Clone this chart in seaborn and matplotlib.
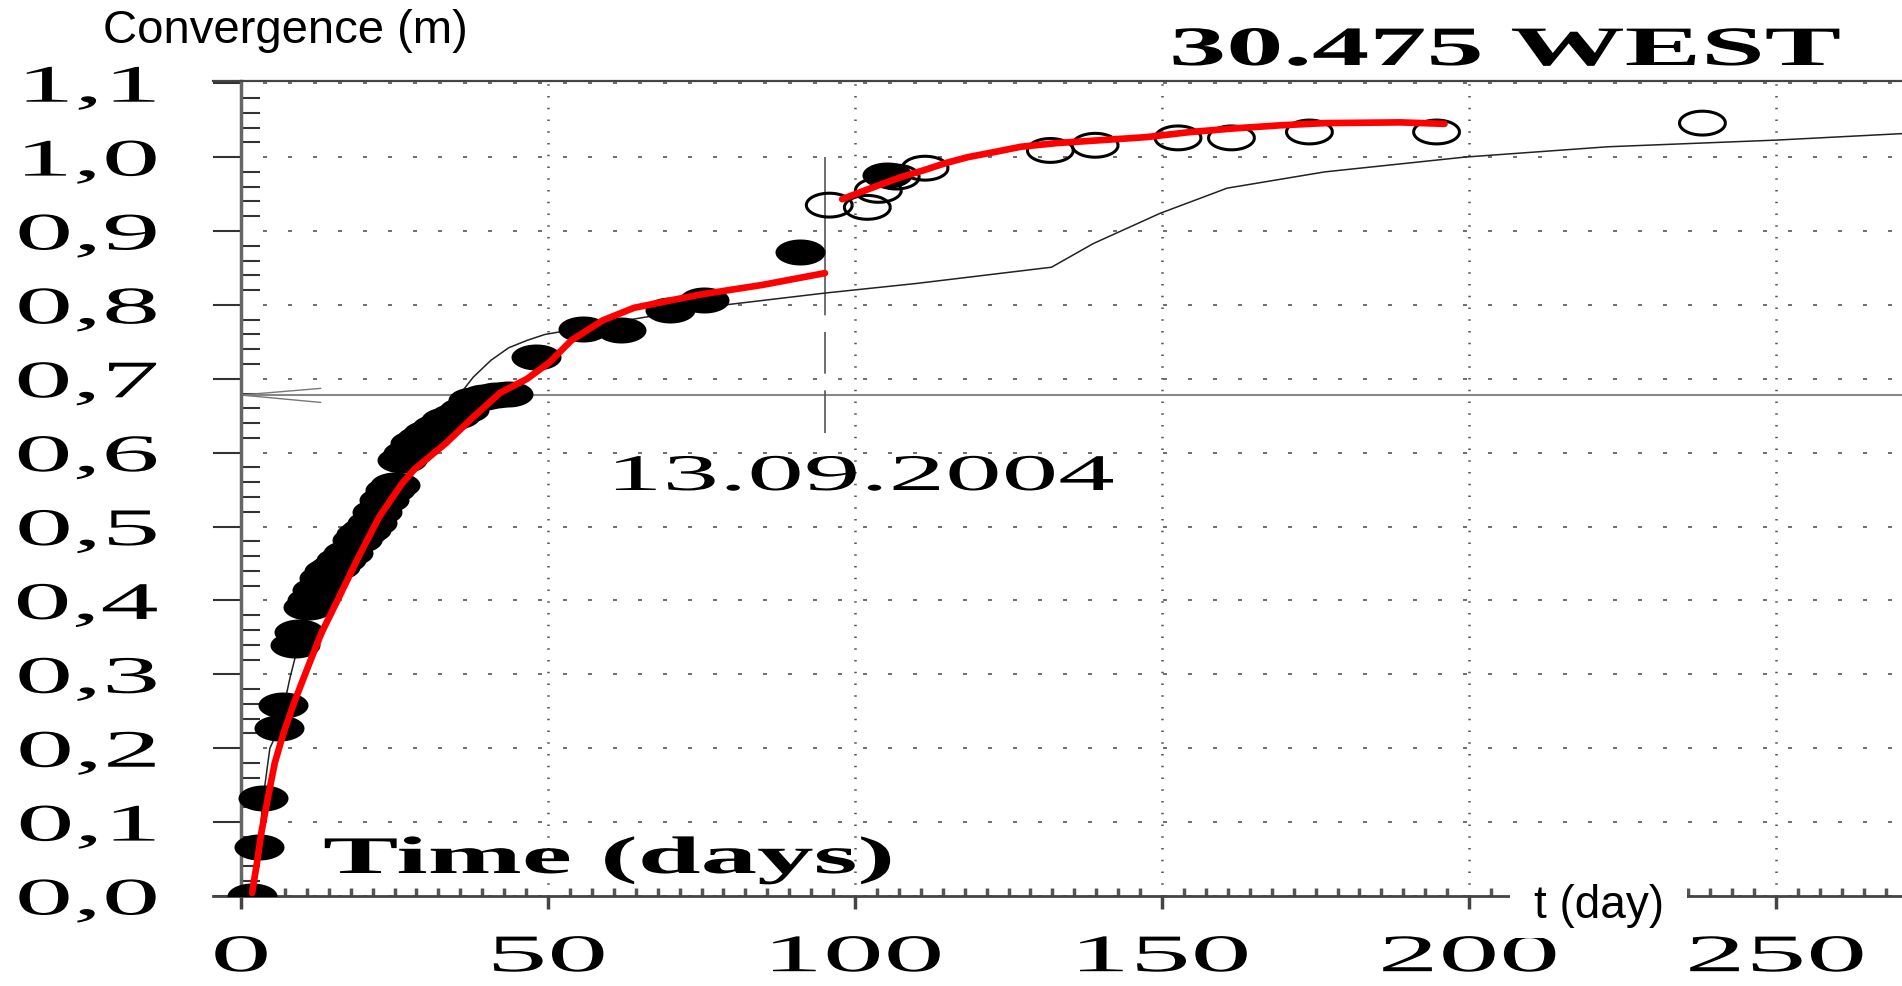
import numpy as np
import matplotlib.pyplot as plt
import matplotlib.patheffects as pe
from matplotlib.path import Path
from matplotlib.patches import Rectangle
from matplotlib.transforms import Affine2D
from matplotlib.ticker import FixedLocator, MultipleLocator
import seaborn as sns

# MEASURED CONVERGENCE (filled = before 13.09.2004, open = after)
meas_days = [1.8, 2.9, 3.6, 6.2, 6.9, 8.8, 9.4, 10.9, 11.6, 12.4, 13.5, 14.4, 15.3,
             16.3, 17.4, 18.9, 19.6, 20.4, 21.3, 22.2, 23.3, 24.2, 25.1, 26.2, 27.2,
             28.3, 29.4, 30.5, 31.9, 33.4, 34.8, 36.3, 37.8, 39.5, 41.5, 43.5, 48.0,
             55.7, 61.9, 69.9, 75.4, 91.0, 105.2]
meas_conv = [0.0, 0.066, 0.132, 0.227, 0.258, 0.34, 0.357, 0.391, 0.40, 0.414, 0.43,
             0.44, 0.445, 0.455, 0.464, 0.482, 0.49, 0.495, 0.505, 0.52, 0.536, 0.55,
             0.556, 0.59, 0.60, 0.613, 0.62, 0.626, 0.635, 0.644, 0.65, 0.658, 0.671,
             0.675, 0.678, 0.68, 0.73, 0.768, 0.766, 0.793, 0.807, 0.871, 0.976]

after_days = [95.8, 102.0, 103.8, 106.7, 111.4, 131.8, 139.1, 152.6, 161.3, 174.0, 194.7, 238.0]
after_conv = [0.935, 0.932, 0.955, 0.973, 0.985, 1.009, 1.016, 1.026, 1.026, 1.034, 1.034, 1.046]

# FITTED CURVES (red)
fit1_days = [1.8, 2.6, 3.3, 4.4, 5.5, 6.9, 8.8, 10.9, 13.1, 16.0, 18.9, 22.5, 26.2, 28.3,
             33.4, 37.8, 42.2, 46.6, 50.2, 53.8, 58.9, 64.0, 69.9, 74.8, 84.9, 95.1]
fit1_conv = [0.004, 0.045, 0.085, 0.134, 0.18, 0.22, 0.265, 0.31, 0.356, 0.405, 0.455,
             0.513, 0.558, 0.578, 0.613, 0.648, 0.681, 0.700, 0.722, 0.752, 0.779, 0.796,
             0.806, 0.814, 0.827, 0.843]
fit2_days = [97.9, 101.0, 103.9, 107.5, 111.1, 114.8, 118.4, 122.8, 127.0, 132.9, 140.2,
             147.4, 154.7, 162.0, 169.2, 176.5, 188.8, 196.0]
fit2_conv = [0.943, 0.953, 0.962, 0.973, 0.982, 0.992, 1.0, 1.007, 1.014, 1.019, 1.023,
             1.027, 1.034, 1.039, 1.043, 1.046, 1.047, 1.045]

# MODEL CURVE (thin black)
model_days = [1.8, 2.9, 3.6, 4.7, 6.2, 8.0, 9.5, 12, 15, 20, 25, 30, 34.9, 37.8, 40.7,
              43.6, 46.6, 49.5, 51.6, 55.2, 62, 74.8, 95.1, 110, 132, 138.8, 149.7, 160.6,
              176.5, 199.3, 222.6, 250, 271]
model_conv = [0.0, 0.066, 0.132, 0.2, 0.227, 0.296, 0.345, 0.40, 0.445, 0.50, 0.56, 0.62,
              0.671, 0.702, 0.725, 0.742, 0.752, 0.76, 0.763, 0.769, 0.778, 0.796, 0.816,
              0.829, 0.851, 0.883, 0.924, 0.958, 0.98, 1.0, 1.014, 1.023, 1.032]

ref_level = 0.678
arrow_days = [13, 0, 13]
arrow_conv = [0.687, 0.678, 0.668]
event_day = 95.1
event_range = [1.0, 0.627]

xticks = [0, 50, 100, 150, 200, 250]
yticks = [0.0, 0.1, 0.2, 0.3, 0.4, 0.5, 0.6, 0.7, 0.8, 0.9, 1.0, 1.1]
ylabels = ["0,0", "0,1", "0,2", "0,3", "0,4", "0,5", "0,6", "0,7", "0,8", "0,9", "1,0", "1,1"]


class Stretch(pe.AbstractPathEffect):
    # widen glyphs horizontally, like the scanned original
    def __init__(self, sx, anchor="left"):
        super().__init__()
        self.sx = sx
        self.anchor = anchor

    def draw_path(self, renderer, gc, tpath, affine, rgbFace=None):
        ext = tpath.get_extents()
        x0 = {"left": 0.0, "center": (ext.x0 + ext.x1) / 2, "right": ext.x1}[self.anchor]
        tr = Affine2D().translate(-x0, 0).scale(self.sx, 1).translate(x0, 0)
        renderer.draw_path(gc, tpath, tr + affine, rgbFace)


sns.set_style("white")
plt.rcParams["font.family"] = ["Liberation Serif", "DejaVu Serif"]
plt.rcParams["text.color"] = "black"

t = np.linspace(0, 2 * np.pi, 80)
ellipse = Path(np.column_stack([np.cos(t), 0.52 * np.sin(t)]))

W, H = 1902, 986
fig = plt.figure(figsize=(W / 100, H / 100), dpi=100)
ax = fig.add_axes([213 / W, 1 - 896 / H, 1 - 213 / W, (896 - 81) / H])
ax.set_xlim(-4.56, 270.5)
ax.set_ylim(0, 1.103)

# grid
ax.set_axisbelow(True)
ax.grid(axis="y", which="major", color="#555", linewidth=1.2, linestyle=(0, (2.4, 12.6)))
ax.grid(axis="x", which="major", color="#555", linewidth=1.8, linestyle=(0, (0.6, 4.1)))

# reference level and date marker
ax.hlines(ref_level, 0, 270.5, color="#888", linewidth=1.5, zorder=2)
sns.lineplot(x=arrow_days, y=arrow_conv, sort=False, estimator=None, color="#777",
             linewidth=1.0, ax=ax, zorder=2)
ax.plot([event_day, event_day], event_range, color="#555", linewidth=1.2,
        linestyle=(0, (95, 10, 25, 10, 26, 10)), zorder=2)

# model curve
sns.lineplot(x=model_days, y=model_conv, sort=False, estimator=None, color="#222",
             linewidth=1.1, ax=ax, zorder=2)

# measurements
sns.scatterplot(x=meas_days, y=meas_conv, marker=ellipse, s=36 ** 2, color="black",
                linewidth=0, ax=ax, zorder=3)
sns.scatterplot(x=after_days, y=after_conv, marker=ellipse, s=33 ** 2, facecolor="none",
                edgecolor="black", linewidth=2.2, ax=ax, zorder=3)

# fitted curves
sns.lineplot(x=fit1_days, y=fit1_conv, sort=False, estimator=None, color="#ff0000",
             linewidth=4.8, ax=ax, zorder=4)
sns.lineplot(x=fit2_days, y=fit2_conv, sort=False, estimator=None, color="#ff0000",
             linewidth=4.8, ax=ax, zorder=4)
for ln in ax.lines:
    ln.set_solid_joinstyle("round")

# axes look
ax.spines["left"].set_position(("data", 0))
ax.spines["left"].set_color("#666")
ax.spines["left"].set_linewidth(2.5)
ax.spines["bottom"].set_color("#444")
ax.spines["bottom"].set_linewidth(2.0)
ax.spines["top"].set_color("#444")
ax.spines["top"].set_linewidth(1.6)
ax.spines["right"].set_visible(False)

ax.set_xticks(xticks)
ax.set_xticklabels([str(v) for v in xticks])
ax.set_yticks(yticks)
ax.set_yticklabels(ylabels)
ax.xaxis.set_minor_locator(FixedLocator(np.arange(0, 271, 50 / 14)))
ax.yaxis.set_minor_locator(MultipleLocator(0.02))

ax.tick_params(axis="y", which="major", left=True, direction="out", length=20, width=1.5,
               color="#333", labelcolor="black", pad=40, labelsize=38)
ax.tick_params(axis="y", which="minor", left=True, direction="in", length=14, width=1.5,
               color="#333")
ax.tick_params(axis="x", which="major", bottom=True, direction="out", length=9.5, width=2.5,
               color="#444", labelcolor="black", pad=18, labelsize=38)
ax.tick_params(axis="x", which="minor", bottom=True, direction="in", length=5.8, width=2.5,
               color="#555")
for lbl in ax.get_yticklabels():
    lbl.set_path_effects([Stretch(2.2, "right")])
for lbl in ax.get_xticklabels():
    lbl.set_path_effects([Stretch(2.3, "center")])
ax.set_xlabel("")
ax.set_ylabel("")

# gap in the time axis behind the unit label
fig.add_artist(Rectangle((1510 / W, 1 - 938 / H), 177 / W, 78 / H, transform=fig.transFigure,
                         facecolor="white", edgecolor="none", zorder=5))

# texts
fig.text(103 / W, 1 - 43 / H, "Convergence (m)", family=["Liberation Sans", "DejaVu Sans"],
         fontsize=34, va="baseline", ha="left")
fig.text(1169 / W, 1 - 65 / H, "30.475 WEST", fontsize=40, fontweight="bold",
         va="baseline", ha="left", path_effects=[Stretch(2.06)])
fig.text(323 / W, 1 - 873 / H, "Time (days)", fontsize=38, fontweight="bold",
         va="baseline", ha="left", path_effects=[Stretch(2.14)])
fig.text(606 / W, 1 - 490 / H, "13.09.2004", fontsize=37, va="baseline", ha="left",
         path_effects=[Stretch(2.2)])
fig.text(1534 / W, 1 - 918 / H, "t (day)", family=["Liberation Sans", "DejaVu Sans"],
         fontsize=33, va="baseline", ha="left", zorder=6)

fig.savefig("out.png", dpi=100)
